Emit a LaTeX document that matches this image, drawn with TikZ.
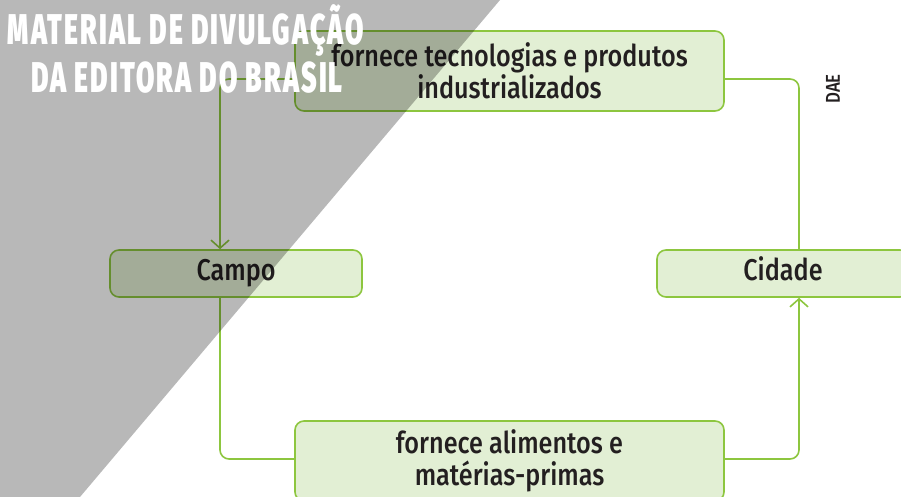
\documentclass[tikz,border=0pt]{standalone}
\usepackage{fontspec}
\setmainfont{Fira Sans Medium}[FakeStretch=0.84]
\newfontfamily\markfont{Fira Sans Black}[FakeStretch=0.62, LetterSpace=5]
\usetikzlibrary{arrows.meta}

\definecolor{leaf}{HTML}{8DC63F}
\definecolor{leaffill}{HTML}{E2EFD4}
\definecolor{ink}{HTML}{231F20}

\tikzset{
    box/.style={draw=leaf, fill=leaffill, line width=1.6pt, rounded corners=9pt,
        text=ink, align=center, inner sep=0pt, font=\fontsize{30}{32}\selectfont},
    bigbox/.style={box, minimum width=429pt, minimum height=80pt},
    placebox/.style={box, minimum width=252pt, minimum height=47pt, text height=23pt, text depth=8pt},
    link/.style={draw=leaf, line width=1.6pt, rounded corners=9pt},
    arrowto/.style={-{Straight Barb[length=8pt,width=18pt,line width=1.6pt]}},
    marktext/.style={text=white, inner sep=0pt, anchor=base,
        font=\markfont\fontsize{43}{43}\selectfont}
}

\begin{document}
\begin{tikzpicture}[x=1pt, y=1pt]
    \useasboundingbox (0,0) rectangle (901,497);
    \clip (0,0) rectangle (901,497);

    % boxes
    \node[bigbox] (supply) at (509.5,426) {fornece tecnologias e produtos\\industrializados};
    \node[placebox] (campo) at (236,223.5) {Campo};
    \node[placebox] (cidade) at (783,223.5) {Cidade};
    \node[bigbox] (food) at (509.5,36) {fornece alimentos e\\matérias-primas};

    % connectors
    \draw[link, arrowto] ([yshift=-8pt]supply.west) -| ([xshift=-16pt]campo.north);
    \draw[link] ([yshift=-8pt]supply.east) -| ([xshift=16pt]cidade.north);
    \draw[link] ([xshift=-16pt]campo.south) |- ([yshift=2pt]food.west);
    \draw[link, arrowto] ([yshift=2pt]food.east) -| ([xshift=16pt]cidade.south);

    \node[rotate=90, text=ink, font=\fontsize{20}{20}\selectfont] (dae) at (833,408) {DAE};

    % watermark
    \fill[black, fill opacity=0.28] (0,497) -- (500,497) -- (80,0) -- (0,0) -- cycle;
    \node[marktext] (markA) at (186,452) {MATERIAL DE DIVULGAÇÃO};
    \node[marktext] (markB) at (187,404) {DA EDITORA DO BRASIL};
\end{tikzpicture}
\end{document}
